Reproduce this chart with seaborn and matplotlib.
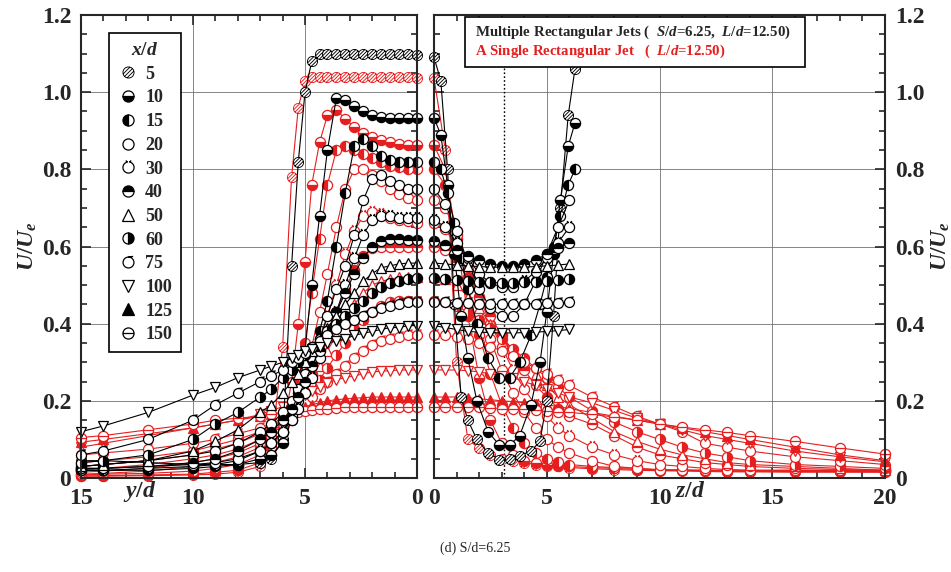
import numpy as np
import pandas as pd
import matplotlib
matplotlib.use("Agg")
import matplotlib.pyplot as plt
from matplotlib.path import Path
from matplotlib.lines import Line2D
from matplotlib.patches import Rectangle
from matplotlib.ticker import MultipleLocator
import seaborn as sns

# ---------------- data ----------------
XD = [5, 10, 15, 20, 30, 40, 50, 60, 75, 100, 125, 150]
JET_SPACING = 6.25   # S/d

# left panel: y/d positions
Y_POS = [15, 14, 12, 10, 9, 8, 7, 6.5, 6, 5.6, 5.3, 5.0, 4.7, 4.35, 4.0, 3.6,
         3.2, 2.8, 2.4, 2.0, 1.6, 1.2, 0.8, 0.4, 0]

# multiple jets (black), y-profiles
y_multi_5 = [.045, .045, .04, .035, .035, .035, .04, .05, .10, .55, .82, 1.00, 1.08,
             1.10, 1.10, 1.10, 1.10, 1.10, 1.10, 1.10, 1.10, 1.10, 1.10, 1.10, 1.096]
y_multi_10 = [.02, .02, .02, .025, .03, .035, .05, .06, .09, .15, .22, .33, .50, .68,
              .85, .985, .98, .965, .95, .94, .935, .933, .933, .933, .933]
y_multi_15 = [.02, .02, .025, .03, .035, .045, .07, .09, .12, .16, .20, .25, .31, .38,
              .46, .60, .74, .86, .88, .86, .835, .825, .82, .82, .82]
y_multi_20 = [.03, .035, .045, .06, .07, .09, .12, .14, .17, .20, .23, .27, .31, .36,
              .42, .49, .55, .63, .72, .775, .785, .77, .76, .75, .75]
y_multi_30 = [.025, .025, .03, .035, .04, .05, .07, .09, .12, .15, .18, .22, .26, .31,
              .37, .43, .50, .57, .63, .67, .68, .68, .675, .673, .673]
y_multi_40 = [.025, .025, .03, .04, .05, .07, .10, .12, .15, .18, .21, .25, .29, .33,
              .38, .43, .48, .53, .57, .60, .615, .62, .62, .617, .617]
y_multi_50 = [.03, .035, .045, .07, .095, .125, .17, .19, .22, .25, .27, .30, .33, .36,
              .39, .42, .45, .48, .51, .53, .545, .55, .555, .557, .557]
y_multi_60 = [.04, .045, .06, .10, .14, .17, .21, .23, .26, .28, .30, .32, .34, .36,
              .38, .40, .42, .44, .46, .48, .495, .505, .51, .515, .518]
y_multi_75 = [.06, .07, .10, .15, .19, .22, .25, .265, .28, .30, .31, .325, .34, .355,
              .37, .385, .40, .41, .42, .43, .44, .445, .45, .455, .455]
y_multi_100 = [.12, .135, .17, .215, .235, .26, .28, .29, .30, .31, .32, .33, .335, .34,
               .35, .355, .36, .37, .375, .38, .385, .39, .39, .395, .395]

# single jet (red), y-profiles
y_single_5 = [.005, .005, .006, .008, .01, .015, .03, .08, .34, .78, .96, 1.03, 1.04,
              1.04, 1.04, 1.04, 1.04, 1.04, 1.04, 1.04, 1.04, 1.04, 1.04, 1.04, 1.036]
y_single_10 = [.005, .006, .008, .01, .015, .02, .04, .06, .12, .25, .40, .56, .76, .87,
               .94, .955, .93, .91, .895, .885, .875, .87, .865, .863, .862]
y_single_15 = [.008, .01, .012, .018, .025, .035, .06, .08, .12, .18, .25, .35, .48, .62,
               .76, .85, .86, .85, .84, .83, .82, .81, .805, .80, .80]
y_single_20 = [.01, .012, .018, .03, .04, .055, .08, .10, .13, .17, .21, .27, .34, .43,
               .53, .65, .75, .80, .80, .785, .77, .75, .735, .725, .72]
y_single_30 = [.015, .018, .025, .04, .05, .065, .09, .11, .14, .17, .20, .24, .29, .35,
               .42, .50, .58, .64, .68, .69, .685, .675, .67, .665, .66]
y_single_40 = [.02, .025, .035, .05, .06, .075, .10, .12, .14, .17, .20, .23, .27, .32,
               .37, .43, .49, .54, .575, .595, .60, .60, .60, .60, .60]
y_single_50 = [.03, .035, .045, .06, .075, .09, .115, .13, .15, .17, .19, .22, .25, .29,
               .33, .37, .41, .45, .48, .50, .51, .515, .52, .52, .52]
y_single_60 = [.04, .045, .055, .07, .085, .10, .12, .135, .15, .17, .185, .20, .225,
               .255, .285, .32, .35, .385, .41, .43, .445, .455, .46, .46, .46]
y_single_75 = [.06, .065, .075, .09, .10, .115, .13, .14, .155, .165, .18, .195, .21,
               .23, .25, .27, .29, .31, .33, .345, .355, .36, .365, .37, .37]
y_single_100 = [.08, .09, .11, .13, .14, .15, .165, .175, .185, .195, .205, .215, .225,
                .235, .245, .255, .26, .265, .27, .275, .277, .278, .28, .28, .28]
y_single_125 = [.093, .10, .115, .13, .14, .15, .16, .165, .17, .175, .18, .185, .19,
                .195, .20, .203, .205, .207, .208, .21, .21, .21, .21, .21, .21]
y_single_150 = [.105, .11, .125, .14, .15, .155, .16, .165, .168, .17, .172, .175, .177,
                .18, .18, .182, .183, .184, .185, .185, .185, .185, .185, .185, .185]

# right panel: z/d positions
Z_MULTI_FINE = [0, 0.3, 0.6, 0.9, 1.2, 1.5, 1.9, 2.4, 2.9, 3.35, 3.8, 4.3, 4.7, 5.0,
                5.3, 5.6, 5.95, 6.25]
Z_MULTI = [0, 0.5, 1.0, 1.5, 2.0, 2.5, 3.0, 3.5, 4.0, 4.5, 5.0, 5.5, 6.0]
Z_SINGLE = [0, 0.5, 1.0, 1.5, 2.0, 2.5, 3.0, 3.5, 4.0, 4.5, 5.0, 5.5, 6.0, 7, 8, 9,
            10, 11, 12, 13, 14, 16, 18, 20]

z_multi_5 = [1.09, 1.03, .80, .45, .21, .15, .10, .065, .048, .05, .058, .07, .095,
             .20, .42, .70, .94, 1.06]
z_multi_10 = [.933, .89, .76, .58, .42, .31, .20, .12, .085, .085, .11, .19, .30, .43,
              .58, .72, .86, .92]
z_multi_15 = [.82, .80, .74, .66, .57, .49, .40, .31, .26, .26, .30, .37, .45, .52,
              .60, .68, .76, .80]
z_multi_20 = [.75, .71, .64, .56, .49, .44, .42, .42, .45, .51, .58, .65, .72]
z_multi_30 = [.67, .65, .61, .57, .53, .505, .495, .495, .51, .535, .57, .61, .65]
z_multi_40 = [.615, .605, .59, .575, .565, .555, .55, .55, .555, .565, .58, .595, .61]
z_multi_50 = [.557, .555, .552, .55, .548, .547, .546, .546, .547, .548, .55, .552, .555]
z_multi_60 = [.518, .515, .512, .51, .508, .507, .506, .506, .507, .508, .51, .512, .515]
z_multi_75 = [.456, .455, .454, .453, .452, .451, .45, .45, .451, .452, .453, .454, .455]
z_multi_100 = [.395, .39, .385, .38, .378, .377, .376, .376, .377, .378, .38, .382, .385]

z_single_5 = [1.036, .85, .30, .10, .077, .06, .05, .045, .04, .035, .032, .03, .027,
              .024, .022, .02, .019, .018, .017, .016, .016, .015, .015, .015]
z_single_10 = [.862, .80, .62, .42, .26, .15, .09, .06, .045, .04, .035, .032, .03,
               .027, .025, .022, .02, .02, .019, .018, .018, .017, .017, .016]
z_single_15 = [.80, .76, .64, .50, .37, .27, .19, .13, .09, .065, .05, .042, .035,
               .03, .027, .025, .022, .021, .02, .02, .02, .02, .019, .019]
z_single_20 = [.72, .70, .63, .54, .45, .36, .28, .22, .17, .13, .10, .08, .065,
               .045, .03, .025, .02, .02, .02, .018, .018, .018, .017, .017]
z_single_30 = [.66, .645, .60, .54, .47, .40, .34, .28, .23, .19, .16, .13, .11,
               .08, .06, .045, .035, .03, .025, .022, .02, .02, .02, .02]
z_single_40 = [.60, .59, .56, .52, .47, .42, .37, .32, .28, .24, .21, .18, .16,
               .14, .11, .08, .06, .05, .04, .035, .03, .025, .022, .02]
z_single_50 = [.52, .515, .50, .47, .44, .40, .37, .33, .30, .27, .24, .21, .19,
               .155, .12, .095, .075, .06, .05, .04, .035, .03, .025, .02]
z_single_60 = [.46, .455, .445, .43, .41, .39, .36, .335, .31, .285, .26, .235, .21,
               .175, .145, .12, .10, .08, .065, .055, .045, .035, .03, .025]
z_single_75 = [.37, .37, .365, .36, .35, .34, .33, .315, .30, .285, .27, .255, .24,
               .21, .185, .16, .14, .12, .09, .08, .07, .055, .045, .035]
z_single_100 = [.28, .28, .28, .278, .275, .27, .265, .26, .25, .24, .23, .22, .21,
                .195, .175, .155, .14, .125, .11, .10, .09, .07, .055, .042]
z_single_125 = [.21, .21, .21, .208, .205, .203, .20, .198, .195, .192, .19, .185, .18,
                .17, .16, .15, .14, .13, .12, .11, .10, .08, .06, .045]
z_single_150 = [.185, .185, .185, .184, .183, .182, .18, .179, .178, .176, .175, .172,
                .17, .165, .158, .15, .14, .132, .125, .118, .11, .095, .078, .062]

Y_TICKS = [0, 0.2, 0.4, 0.6, 0.8, 1.0, 1.2]
Y_LABELS = ["0", "0.2", "0.4", "0.6", "0.8", "1.0", "1.2"]

# ---------------- style ----------------
sns.set_style("ticks")
plt.rcParams["font.family"] = ["Liberation Serif", "DejaVu Serif"]
plt.rcParams["font.weight"] = "bold"
plt.rcParams["mathtext.fontset"] = "custom"
plt.rcParams["mathtext.it"] = "Liberation Serif:italic:bold"
plt.rcParams["mathtext.rm"] = "Liberation Serif:bold"
plt.rcParams["mathtext.bf"] = "Liberation Serif:bold"

RED = "#e51f1f"
MS = 7.3

circ = Path.unit_circle()


def hatched_circle():
    parts = [circ]
    for t in (-0.5, 0.0, 0.5):
        h = np.sqrt(1 - t * t)
        cx, cy = -t * 0.7071, t * 0.7071
        parts.append(Path([(cx - h * 0.7071, cy - h * 0.7071),
                           (cx + h * 0.7071, cy + h * 0.7071)]))
    return Path.make_compound_path(*parts)


def horned_circle():
    a = np.radians([100, 80])
    arc = Path.arc(100, 440)
    p1 = Path([(np.cos(a[0]), np.sin(a[0])), (-0.5, 1.25)])
    p2 = Path([(np.cos(a[1]), np.sin(a[1])), (0.5, 1.25)])
    return Path.make_compound_path(arc, p1, p2)


def tailed_circle():
    return Path.make_compound_path(circ, Path([(0.0, 1.0), (0.85, 1.12)]))


def minus_circle():
    return Path.make_compound_path(circ, Path([(-1, 0), (1, 0)]))


def marker_kw(xd, color, ms=MS):
    kw = dict(markeredgecolor=color, markeredgewidth=0.9, markersize=ms,
              markerfacecolor="white")
    if xd == 5:
        kw.update(marker=hatched_circle(), markeredgewidth=0.65)
    elif xd in (10, 15, 40, 60):
        kw.update(marker="o", markerfacecolor=color, markerfacecoloralt="white",
                  fillstyle={10: "bottom", 15: "left", 40: "top", 60: "right"}[xd])
    elif xd == 20:
        kw["marker"] = "o"
    elif xd == 30:
        kw.update(marker=horned_circle(), markersize=ms * 1.25)
    elif xd == 50:
        kw.update(marker="^", markersize=ms * 1.05)
    elif xd == 75:
        kw.update(marker=tailed_circle(), markersize=ms * 1.1)
    elif xd == 100:
        kw.update(marker="v", markersize=ms * 1.05)
    elif xd == 125:
        kw.update(marker="^", markerfacecolor=color, markersize=ms * 1.05)
    elif xd == 150:
        kw["marker"] = minus_circle()
    return kw


def draw(ax, x, y, xd, color):
    df = pd.DataFrame({"pos": x, "u": y})
    sns.lineplot(data=df, x="pos", y="u", ax=ax, color=color, linewidth=0.8,
                 estimator=None, sort=False, legend=False, clip_on=False,
                 **marker_kw(xd, color))


fig = plt.figure(figsize=(9.51, 5.72), dpi=100)
ax1 = fig.add_axes([0.0852, 0.1643, 0.3533, 0.8094])
ax2 = fig.add_axes([0.4564, 0.1643, 0.4742, 0.8094])

left_single = [y_single_5, y_single_10, y_single_15, y_single_20, y_single_30,
               y_single_40, y_single_50, y_single_60, y_single_75, y_single_100,
               y_single_125, y_single_150]
left_multi = [y_multi_5, y_multi_10, y_multi_15, y_multi_20, y_multi_30, y_multi_40,
              y_multi_50, y_multi_60, y_multi_75, y_multi_100]
right_single = [z_single_5, z_single_10, z_single_15, z_single_20, z_single_30,
                z_single_40, z_single_50, z_single_60, z_single_75, z_single_100,
                z_single_125, z_single_150]
right_multi = [z_multi_5, z_multi_10, z_multi_15, z_multi_20, z_multi_30, z_multi_40,
               z_multi_50, z_multi_60, z_multi_75, z_multi_100]

for xd, vals in zip(XD, left_single):
    draw(ax1, Y_POS, vals, xd, RED)
for xd, vals in zip(XD, left_multi):
    draw(ax1, Y_POS, vals, xd, "black")

for xd, vals in zip(XD, right_single):
    draw(ax2, Z_SINGLE, vals, xd, RED)
for xd, vals in zip(XD, right_multi):
    zpos = Z_MULTI_FINE if xd in (5, 10, 15) else Z_MULTI
    draw(ax2, zpos, vals, xd, "black")

ax2.axvline(JET_SPACING / 2, color="black", lw=1.0, ls=(0, (1.2, 1.6)), zorder=1)

# ---------------- axes ----------------
for ax in (ax1, ax2):
    ax.set_ylim(0, 1.2)
    ax.set_yticks(Y_TICKS, labels=Y_LABELS)
    ax.yaxis.set_minor_locator(MultipleLocator(0.05))
    ax.xaxis.set_minor_locator(MultipleLocator(1))
    ax.tick_params(which="both", direction="in", top=True, right=True, left=True,
                   bottom=True, labelsize=17, width=1.2)
    ax.tick_params(which="major", length=7, pad=7)
    ax.tick_params(which="minor", length=4)
    ax.grid(True, which="major", color="0.45", lw=0.6)
    ax.set_axisbelow(True)
    for s in ax.spines.values():
        s.set_linewidth(1.5)
    ax.set_xlabel("")

ax1.set_xlim(15, 0)
ax1.set_xticks([15, 10, 5, 0])
ax1.set_ylabel("$U/U_e$", fontsize=17, labelpad=2)

ax2.set_xlim(0, 20)
ax2.set_xticks([0, 5, 10, 15, 20])
ax2.tick_params(labelleft=False, labelright=True)
ax2.yaxis.set_label_position("right")
ax2.set_ylabel("$U/U_e$", fontsize=17, labelpad=4)

ax1.text(0.176, -0.03, "$y/d$", transform=ax1.transAxes, ha="center", va="center",
         fontsize=17)
ax2.text(0.568, -0.03, "$z/d$", transform=ax2.transAxes, ha="center", va="center",
         fontsize=17)

# legend (black symbols only)
handles = [Line2D([], [], linestyle="none", **marker_kw(xd, "black", ms=8)) for xd in XD]
leg = ax1.legend(handles, [str(v) for v in XD], title="$x/d$", loc="upper left",
                 bbox_to_anchor=(0.083, 0.961), borderaxespad=0, fontsize=13,
                 title_fontsize=14, labelspacing=0.37, handletextpad=0.4,
                 handlelength=1.1, borderpad=0.5, fancybox=False, framealpha=1,
                 edgecolor="black")
leg.get_frame().set_linewidth(1.2)

# annotation box
ax2.add_patch(Rectangle((0.069, 0.888), 0.754, 0.107, transform=ax2.transAxes,
                        facecolor="white", edgecolor="black", lw=1.2, zorder=20,
                        clip_on=False))
ax2.text(0.091, 0.963, "Multiple Rectangular Jets (  $S/d$=6.25,  $L/d$=12.50)",
         transform=ax2.transAxes, fontsize=10.7, va="center", zorder=21)
ax2.text(0.091, 0.922, "A Single Rectangular Jet   (  $L/d$=12.50)", color=RED,
         transform=ax2.transAxes, fontsize=10.7, va="center", zorder=21)

fig.text(0.4995, 1 - 548 / 572, "(d) S/d=6.25", ha="center", va="center",
         fontsize=10, fontweight="normal")

fig.savefig("out.png", dpi=100)
